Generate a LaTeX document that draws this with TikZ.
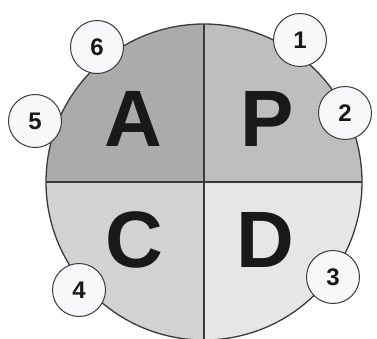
\documentclass[tikz,border=0pt]{standalone}
\usepackage{fontspec}
\setmainfont{Liberation Sans}
\definecolor{colA}{HTML}{ABABAB}
\definecolor{colP}{HTML}{BEBEBE}
\definecolor{colC}{HTML}{D2D2D2}
\definecolor{colD}{HTML}{E6E6E6}
\definecolor{edge}{HTML}{3A3A3A}
\definecolor{numfill}{HTML}{F6F8FA}
\begin{document}
\begin{tikzpicture}[x=1pt,y=1pt,
  letter/.style={font=\fontsize{80}{80}\selectfont\bfseries, text=black!90, inner sep=0pt},
  num/.style={circle, draw=edge, line width=1pt, fill=numfill, minimum size=53pt, inner sep=0pt, font=\fontsize{24}{24}\selectfont\bfseries, text=black!90}]
\useasboundingbox (0,0) rectangle (377,338);
\clip (0,0) rectangle (377,338);
\coordinate (O) at (204,156);
\fill[colA] (O) -- ++(-158,0) arc[start angle=180, end angle=90, radius=158] -- cycle;
\fill[colP] (O) -- ++(0,158) arc[start angle=90, end angle=0, radius=158] -- cycle;
\fill[colC] (O) -- ++(-158,0) arc[start angle=180, end angle=270, radius=158] -- cycle;
\fill[colD] (O) -- ++(158,0) arc[start angle=0, end angle=-90, radius=158] -- cycle;
\coordinate (L) at (46,156);
\coordinate (R) at (362,156);
\coordinate (T) at (204,314);
\coordinate (B) at (204,-2);
\draw[edge, line width=1.3pt] (L) -- (R);
\draw[edge, line width=1.3pt] (T) -- (B);
\draw[edge, line width=1.3pt] (O) circle[radius=158];
\node[letter] (a) at (133,219) {A};
\node[letter] (p) at (267,219) {P};
\node[letter] (c) at (134,98) {C};
\node[letter] (d) at (265,98) {D};
\node[num] (n1) at (300,298) {1};
\node[num] (n2) at (345,225) {2};
\node[num] (n3) at (333,61) {3};
\node[num] (n4) at (79,48) {4};
\node[num] (n5) at (35,217) {5};
\node[num] (n6) at (97,291) {6};
\end{tikzpicture}
\end{document}
